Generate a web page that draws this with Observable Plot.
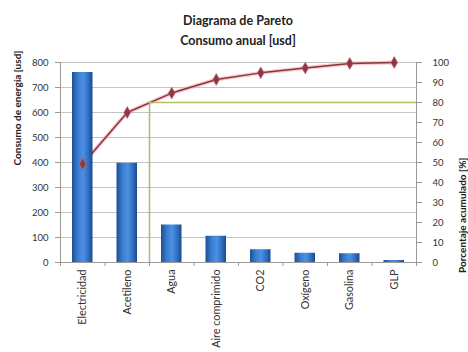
<!DOCTYPE html>
<html>
<head>
<meta charset="utf-8">
<script src="https://cdn.jsdelivr.net/npm/d3@7"></script>
<script src="https://cdn.jsdelivr.net/npm/@observablehq/plot@0.6"></script>
<style>
  body { margin: 0; background: #fff; font-family: Lato, "Open Sans", sans-serif; }
  #titulo { width: 468px; height: 51px; box-sizing: border-box; padding: 11px 0 0 8px;
            text-align: center; font-weight: bold; font-size: 12.5px; line-height: 20px; color: #222; }
  svg { display: block; }
</style>
</head>
<body>
<div id="titulo">Diagrama de Pareto<br>Consumo anual [usd]</div>
<div id="chart"></div>
<script>
// Annual energy consumption by resource (usd)
const categorias = ["Electricidad", "Acetileno", "Agua", "Aire comprimido", "CO2", "Oxígeno", "Gasolina", "GLP"];
const consumo = [760, 397, 150, 105, 51, 37, 35, 8];
// Left axis (usd) and right axis (%) tick values
const ticksUsd = [0, 100, 200, 300, 400, 500, 600, 700, 800];
const ticksPct = [0, 10, 20, 30, 40, 50, 60, 70, 80, 90, 100];
const umbral = 80;       // Pareto threshold, %
const vitales = 2;       // categories inside the threshold

const maxUsd = 800;
const escala = maxUsd / 100;   // one percent expressed in left-axis units
const total = d3.sum(consumo);
let acum = 0;
const datos = categorias.map((c, i) => {
  acum += consumo[i];
  return { i, categoria: c, valor: consumo[i], pct: 100 * acum / total };
});
const n = categorias.length;

const grid = "#c4c4c4";
const axisColor = "#9a9a9a";

const svg = Plot.plot({
  width: 468,
  height: 301,
  marginTop: 11,
  marginBottom: 90,
  marginLeft: 60,
  marginRight: 52,
  x: { domain: [0, n], axis: null },
  y: { domain: [0, maxUsd], axis: null },
  style: { fontFamily: "Lato, 'Open Sans', sans-serif", fontSize: "9.5px", color: "#333", background: "#fff" },
  marks: [
    Plot.ruleY(ticksUsd, { stroke: grid, strokeWidth: 1 }),
    Plot.ruleX([0, n], { stroke: axisColor }),
    Plot.axisY({ anchor: "left", ticks: ticksUsd, tickSize: 5, tickPadding: 7, label: null, stroke: axisColor }),
    Plot.axisY({ anchor: "right", ticks: ticksPct.map(p => p * escala), tickFormat: d => d / escala,
                 tickSize: 5, tickPadding: 11, label: null, stroke: axisColor }),
    Plot.axisX({ anchor: "bottom", ticks: d3.range(0, n + 1), tickFormat: () => "", tickSize: 4, label: null, stroke: axisColor }),
    Plot.axisX({ anchor: "bottom", ticks: d3.range(n).map(i => i + 0.5), tickFormat: d => categorias[Math.floor(d)],
                 tickRotate: -90, tickSize: 0, tickPadding: 7, label: null, fontSize: 10.8 }),
    // cumulative line sits behind the columns
    Plot.line(datos, { x: d => d.i + 0.5, y: d => d.pct * escala, stroke: "#f0a8a8", strokeWidth: 4, strokeOpacity: 0.6 }),
    Plot.line(datos, { x: d => d.i + 0.5, y: d => d.pct * escala, stroke: "#8a3440", strokeWidth: 1.5 }),
    Plot.rectY(datos, { x1: d => d.i, x2: d => d.i + 1, y: "valor", insetLeft: 12, insetRight: 12, fill: "url(#barra)" }),
    Plot.rectY(datos, { x1: d => d.i, x2: d => d.i + 1, y1: d => d.valor, y2: d => d.valor,
                        insetLeft: 12, insetRight: 12, stroke: "#8fb8ea", strokeWidth: 2 }),
    Plot.ruleY([0], { stroke: axisColor }),
    Plot.ruleY([umbral * escala], { x1: vitales, x2: n, stroke: "#b7bd6a", strokeWidth: 1.5 }),
    Plot.ruleX([vitales], { y1: 0, y2: umbral * escala, stroke: "#b0b676", strokeWidth: 1.5 }),
    Plot.dot(datos, { x: d => d.i + 0.5, y: d => d.pct * escala, symbol: "diamond", r: 3.6, fill: "#8c3846", stroke: "#c96a74", strokeWidth: 0.6 }),
    Plot.text(["Consumo de energía [usd]"], { frameAnchor: "left", rotate: -90, dx: -43, dy: 3,
                                             fontWeight: "bold", fontSize: 10, fill: "#222" }),
    Plot.text(["Porcentaje acumulado [%]"], { frameAnchor: "right", rotate: -90, dx: 46, dy: -5,
                                             fontWeight: "bold", fontSize: 10, fill: "#222" })
  ]
});

// Cylinder-like shading for the bars
const defs = d3.select(svg).insert("defs", ":first-child");
const g = defs.append("linearGradient").attr("id", "barra").attr("x1", "0").attr("x2", "1").attr("y1", "0").attr("y2", "0");
[["0%", "#1c4f95"], ["30%", "#3a7fd2"], ["55%", "#4b90e2"], ["80%", "#2f6dbf"], ["100%", "#1a4a8c"]]
  .forEach(([o, c]) => g.append("stop").attr("offset", o).attr("stop-color", c));

document.getElementById("chart").appendChild(svg);
</script>
</body>
</html>
